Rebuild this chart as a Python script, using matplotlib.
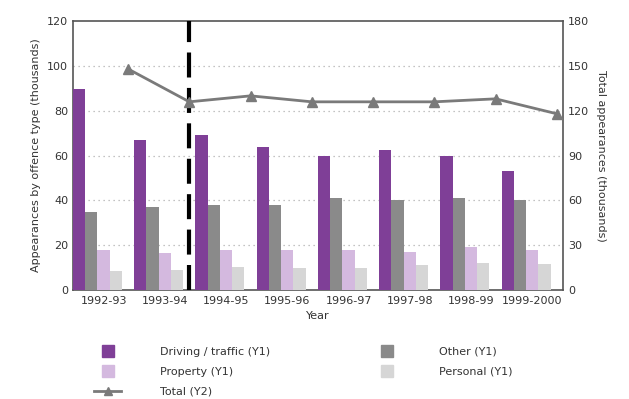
import matplotlib
matplotlib.use("Agg")
import matplotlib.pyplot as plt
import numpy as np
from matplotlib.lines import Line2D

years = ["1992-93", "1993-94", "1994-95", "1995-96", "1996-97", "1997-98", "1998-99", "1999-2000"]
driving = [89.5, 67, 69, 64, 60, 62.5, 60, 53]
other = [35, 37, 38, 38, 41, 40, 41, 40]
prop = [18, 16.5, 18, 18, 18, 17, 19, 18]
personal = [8.5, 9, 10.5, 10, 10, 11, 12, 11.5]
total = [148, 126, 130, 126, 126, 126, 128, 118]

c_drive = "#7f3f97"
c_other = "#8a8a8a"
c_prop = "#d4b9df"
c_pers = "#d6d6d6"
c_line = "#7a7a7a"

plt.rcParams["font.family"] = "DejaVu Sans"
fig = plt.figure(figsize=(6.29, 3.99), dpi=100)
ax = fig.add_axes([0.116, 0.273, 0.779, 0.674])

x = np.arange(len(years))
w = 0.2
# five slots per category, the last one holds the total
ax.bar(x + 0.1, driving, w, color=c_drive, zorder=3)
ax.bar(x + 0.3, other, w, color=c_other, zorder=3)
ax.bar(x + 0.5, prop, w, color=c_prop, zorder=3)
ax.bar(x + 0.7, personal, w, color=c_pers, zorder=3)

ax.set_xlim(0, len(years))
ax.set_ylim(0, 120)
ax.set_yticks(range(0, 121, 20))
ax.set_xticks(x + 0.5)
ax.set_xticklabels(years, fontsize=8)
ax.tick_params(axis="both", length=0, labelsize=8, colors="#333333")
ax.tick_params(axis="x", pad=4)
for y in range(20, 101, 20):
    ax.axhline(y, color="#b0b0b0", linestyle=(0, (1, 3)), linewidth=0.9, zorder=1)
for s in ax.spines.values():
    s.set_color("#555555")
    s.set_linewidth(1.2)
ax.set_ylabel("Appearances by offence type (thousands)", fontsize=8, color="#333333")
ax.set_xlabel("Year", fontsize=8, color="#333333", labelpad=4)

ax2 = ax.twinx()
ax2.set_ylim(0, 180)
ax2.set_yticks(range(0, 181, 30))
ax2.tick_params(axis="y", length=0, labelsize=8, colors="#333333")
ax2.plot(x + 0.9, total, color=c_line, linewidth=2, marker="^", markersize=7, zorder=4)
ax2.set_ylabel("Total appearances (thousands)", fontsize=8, color="#333333", rotation=270, labelpad=12)
for s in ax2.spines.values():
    s.set_visible(False)

# break in the series between 1993-94 and 1994-95
ax.axvline(1.9, ymin=0, ymax=1.0, color="black", linewidth=3, linestyle=(0, (6, 2.5)), zorder=5)

def square(c):
    return Line2D([], [], linestyle="none", marker="s", markersize=8, color=c)

handles = [
    square(c_drive), square(c_prop),
    Line2D([], [], color=c_line, linewidth=2, marker="^", markersize=6),
    square(c_other), square(c_pers),
]
labels = ["Driving / traffic (Y1)", "Property (Y1)", "Total (Y2)", "Other (Y1)", "Personal (Y1)"]
leg = fig.legend(handles, labels, loc="upper left", bbox_to_anchor=(0.14, 0.145), ncol=2,
                 frameon=False, fontsize=8, columnspacing=9.2, handlelength=2.5,
                 handletextpad=3.5, labelspacing=0.9, borderpad=0)
for t in leg.get_texts():
    t.set_color("#333333")

fig.savefig("out.png", dpi=100)
